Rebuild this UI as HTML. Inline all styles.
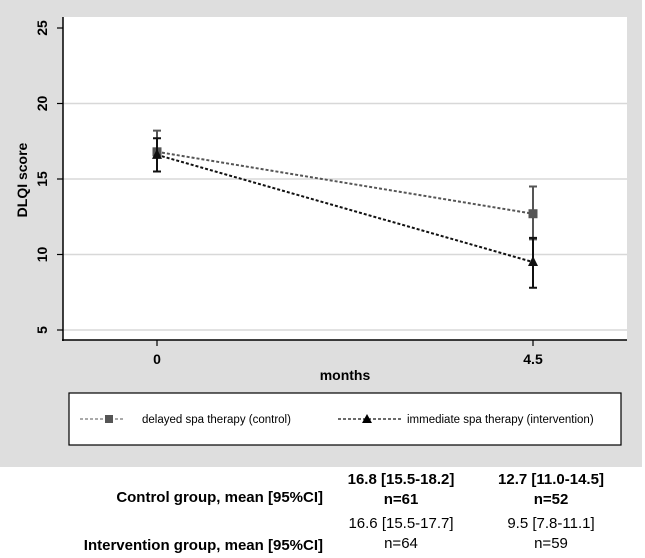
<!DOCTYPE html>
<html><head><meta charset="utf-8"><style>
body{margin:0;background:#fff;}
svg{display:block;font-family:"Liberation Sans",Arial,sans-serif;}
</style></head><body>
<svg width="645" height="558" viewBox="0 0 645 558">
<rect x="0" y="0" width="642" height="467" fill="#dedede"/>
<rect x="63" y="17" width="564" height="323" fill="#fff"/>
<g id="grid"></g>
<line x1="63" y1="17" x2="63" y2="341" stroke="#000" stroke-width="1.5"/>
<line x1="62" y1="340" x2="627" y2="340" stroke="#000" stroke-width="1.5"/>
<g id="yticks"></g><g id="xticks"></g>
<text x="27" y="180" transform="rotate(-90 27 180)" text-anchor="middle" font-size="14" font-weight="bold">DLQI score</text>
<text x="345" y="380" text-anchor="middle" font-size="14" font-weight="bold">months</text>
<g id="series"></g>
<g>
<rect x="69" y="393" width="552" height="52" fill="#fff" stroke="#000" stroke-width="1.2"/>
<g>
<line x1="80" y1="419" x2="123" y2="419" stroke="#777" stroke-width="1.3" stroke-dasharray="3,2"/>
<rect x="105" y="415" width="8" height="8" fill="#555"/>
<text x="142" y="423" font-size="11.5">delayed spa therapy (control)</text>
</g>
<g>
<line x1="338" y1="419" x2="402" y2="419" stroke="#111" stroke-width="1.3" stroke-dasharray="3,2"/>
<polygon points="367,414 372,423 362,423" fill="#000"/>
<text x="407" y="423" font-size="11.5">immediate spa therapy (intervention)</text>
</g>
</g>
<g font-size="15">
<text x="323" y="502" text-anchor="end" font-weight="bold">Control group, mean [95%CI]</text>
<text x="401" y="484" text-anchor="middle" font-weight="bold">16.8 [15.5-18.2]</text>
<text x="401" y="504" text-anchor="middle" font-weight="bold">n=61</text>
<text x="551" y="484" text-anchor="middle" font-weight="bold">12.7 [11.0-14.5]</text>
<text x="551" y="504" text-anchor="middle" font-weight="bold">n=52</text>
<text x="323" y="550" text-anchor="end" font-weight="bold">Intervention group, mean [95%CI]</text>
<text x="401" y="528" text-anchor="middle">16.6 [15.5-17.7]</text>
<text x="401" y="548" text-anchor="middle">n=64</text>
<text x="551" y="528" text-anchor="middle">9.5 [7.8-11.1]</text>
<text x="551" y="548" text-anchor="middle">n=59</text>
</g>
</svg>
<script>
const xCats=[0,4.5];
const xLabels=["0","4.5"];
const yTicks=[5,10,15,20,25];
const controlMean=[16.8,12.7];
const controlLo=[15.5,11.0];
const controlHi=[18.2,14.5];
const interMean=[16.6,9.5];
const interLo=[15.5,7.8];
const interHi=[17.7,11.1];
const NS="http://www.w3.org/2000/svg";
function yS(v){return 330-(v-5)*15.1;}
function xS(v){return 157+v*(533-157)/4.5;}
function mk(tag,attrs,parent){const e=document.createElementNS(NS,tag);for(const k in attrs)e.setAttribute(k,attrs[k]);document.getElementById(parent).appendChild(e);return e;}
yTicks.forEach(t=>{
  if(t!==25){const g=mk('line',{x1:63,x2:627,y1:yS(t),y2:yS(t),stroke:'#d8d8d8','stroke-width':1.5},'grid');
  
  }
  const tk=mk('line',{x1:57,x2:63,y1:yS(t),y2:yS(t),stroke:'#000','stroke-width':1.2},'yticks');
  
  
  const tx=mk('text',{x:47,y:yS(t),'text-anchor':'middle','font-size':14,'font-weight':'bold',transform:`rotate(-90 47 ${yS(t)})`},'yticks');
  tx.textContent=t;
  
  
});
xCats.forEach((c,i)=>{
  const tk=mk('line',{x1:xS(c),x2:xS(c),y1:340,y2:346,stroke:'#000','stroke-width':1.2},'xticks');
  
  
  const tx=mk('text',{x:xS(c),y:364,'text-anchor':'middle','font-size':14,'font-weight':'bold'},'xticks');
  tx.textContent=xLabels[i];
  
  
});
function series(mean,lo,hi,color,name,marker){
  const pts=xCats.map((c,i)=>xS(c)+','+yS(mean[i])).join(' ');
  const l=mk('polyline',{points:pts,fill:'none',stroke:color,'stroke-width':2,'stroke-dasharray':'3,2'},'series');
  
  
  xCats.forEach((c,i)=>{
    const x=xS(c);
    const e=mk('path',{d:`M${x},${yS(lo[i])}V${yS(hi[i])}M${x-4},${yS(lo[i])}H${x+4}M${x-4},${yS(hi[i])}H${x+4}`,stroke:color,'stroke-width':2,fill:'none'},'series');
    
    
    let m;
    const y=yS(mean[i]);
    if(marker==='sq') m=mk('rect',{x:x-4.5,y:y-4.5,width:9,height:9,fill:color},'series');
    else m=mk('polygon',{points:`${x},${y-6} ${x+5},${y+4} ${x-5},${y+4}`,fill:color},'series');
    
    
  });
}
series(controlMean,controlLo,controlHi,'#555','control','sq');
series(interMean,interLo,interHi,'#111','intervention','tri');
</script>
</body></html>
